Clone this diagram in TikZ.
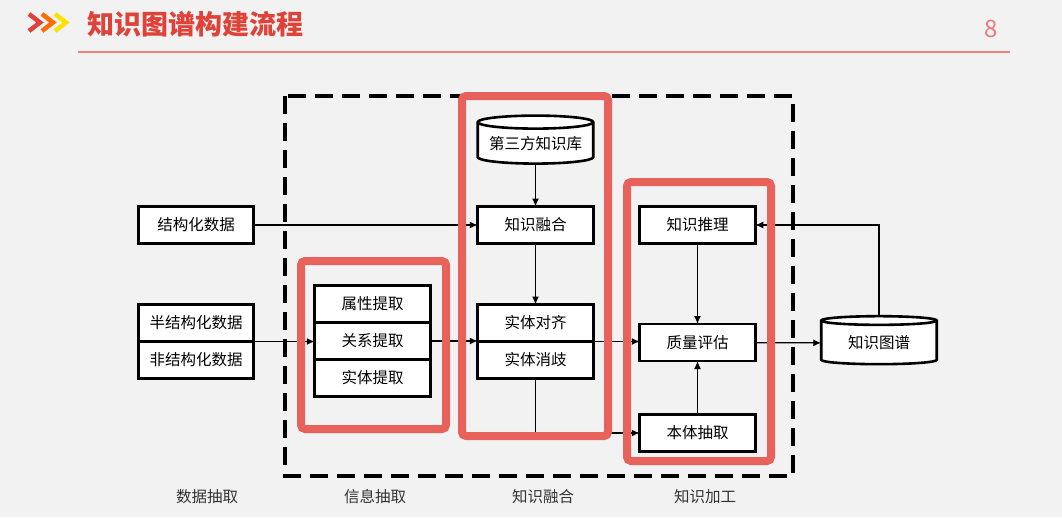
\documentclass[tikz,border=0pt]{standalone}
\usepackage{fontspec}
\newfontfamily\cjk{Noto Sans CJK SC}
\usetikzlibrary{arrows.meta,positioning,shapes.geometric}
\definecolor{hlred}{RGB}{232,98,92}
\definecolor{titlered}{RGB}{222,66,56}
\pgfdeclarelayer{back}
\pgfsetlayers{back,main}
\begin{document}
\begin{tikzpicture}[x=1pt,y=-1pt,>={Latex[length=8pt,width=7pt]},every node/.style={font=\cjk\fontsize{15.5}{18}\selectfont,align=center},
  box/.style={draw,line width=2.6pt,fill=white,minimum width=115.5pt,minimum height=37pt,inner sep=0pt,outer sep=0pt},
  db/.style={draw,line width=2.6pt,fill=white,cylinder,shape border rotate=90,aspect=0.14,minimum width=115.5pt,minimum height=48pt,inner sep=0pt,outer sep=0pt},
  link/.style={line width=1.3pt},hlbox/.style={draw=hlred,line width=8pt,rounded corners=4pt}]
\useasboundingbox (0,0) rectangle (1062,517);
% header
\foreach \c [count=\i] in {titlered,orange!85!red,yellow!85!orange} \draw[\c,line width=4.5pt] (16+13*\i,14)--(27+13*\i,22.5)--(16+13*\i,31);
\node[anchor=west,text=titlered,font=\cjk\bfseries\fontsize{27}{30}\selectfont] (title) at (84,24) {知识图谱构建流程};
\node[text=hlred!85,font=\cjk\fontsize{24}{26}\selectfont] (pgno) at (991,29) {8};
\draw[hlred!80,line width=1.2pt] (78,52)--(1010,52);
% data sources
\node[box] (struct) at (196,225) {结构化数据};
\node[box] (semi) at (196,323) {半结构化数据};
\node[box,below=0pt of semi] (unstr) {非结构化数据};
% information extraction
\node[box] (attr) at (372.5,304) {属性提取};
\node[box,below=0pt of attr] (rel) {关系提取};
\node[box,below=0pt of rel] (ent) {实体提取};
% knowledge fusion
\node[db] (kb3) at (535.5,143.5) {第三方知识库};
\node[box] (fuse) at (535.5,225) {知识融合};
\node[box] (align) at (535.5,323) {实体对齐};
\node[box,below=0pt of align] (disamb) {实体消歧};
% knowledge processing
\node[box] (reason) at (697.5,225) {知识推理};
\node[box] (quality) at (697.5,342.5) {质量评估};
\node[box] (onto) at (697.5,433) {本体抽取};
\node[db] (kg) at (879,343) {知识图谱};
% stage labels
\foreach \x/\t [count=\i] in {207/数据抽取,375/信息抽取,543/知识融合,705/知识加工} \node[text=black!80] (stage\i) at (\x,497) {\t};
\begin{pgfonlayer}{back}
\fill[black!5] (0,0) rectangle (1062,517);
\draw[link,->] (struct)--(fuse);\draw[link,->] (semi.south east)--(semi.south east -| rel.west);
\draw[link,->] (rel.east)--(rel.east -| align.west);\draw[link,->] (kb3.south)--(fuse.north);\draw[link,->] (fuse)--(align);
\draw[link,->] (align.south east)--(align.south east -| quality.west);\draw[link,->] (disamb.south) |- (onto.west);
\draw[link,->] (reason)--(quality);\draw[link,->] (onto)--(quality);\draw[link,->] (quality)--(kg);\draw[link,->] (kg.north) |- (reason.east);
\draw[line width=3.5pt,dash pattern=on 18pt off 9pt] (285,96) rectangle (793,476);
\draw[hlbox] (301,261) rectangle (446,429);\draw[hlbox] (462,96) rectangle (608,436);\draw[hlbox] (627,182) rectangle (771,461);
\end{pgfonlayer}
\end{tikzpicture}
\end{document}
